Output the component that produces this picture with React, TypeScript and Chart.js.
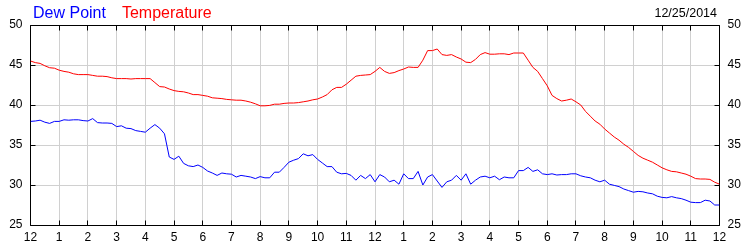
import { useEffect, useRef } from "react";
import { Chart, registerables } from "chart.js";

Chart.register(...registerables);

const DATE_TEXT = "12/25/2014";
const SERIES_NAMES = ["Dew Point", "Temperature"];
const SERIES_COLORS = ["#0000ff", "#ff0000"];
const HOUR_LABELS = [
  "12", "1", "2", "3", "4", "5", "6", "7", "8", "9", "10", "11",
  "12", "1", "2", "3", "4", "5", "6", "7", "8", "9", "10", "11", "12",
];
const Y_TICKS = [25, 30, 35, 40, 45, 50];
const SAMPLES_PER_HOUR = 6; // one reading every 10 minutes

const dewPoint = [
  37.95, 38.0, 38.1, 37.85, 37.7, 37.95,
  37.95, 38.15, 38.1, 38.15, 38.15, 38.05,
  38.0, 38.3, 37.8, 37.75, 37.75, 37.7,
  37.3, 37.4, 37.1, 37.05, 36.8, 36.7,
  36.6, 37.1, 37.55, 37.1, 36.4, 33.5,
  33.2, 33.6, 32.7, 32.4, 32.3, 32.5,
  32.2, 31.75, 31.5, 31.2, 31.5, 31.4,
  31.35, 31.0, 31.2, 31.1, 31.0, 30.8,
  31.05, 30.9, 30.9, 31.6, 31.6, 32.2,
  32.85, 33.1, 33.3, 33.9, 33.65, 33.8,
  33.2, 32.75, 32.3, 32.3, 31.6, 31.4,
  31.45, 31.2, 30.6, 31.2, 30.8, 31.3,
  30.4, 31.3, 31.0, 30.4, 30.6, 30.1,
  31.4, 30.8, 30.8, 31.7, 30.0, 31.0,
  31.3, 30.5, 29.7, 30.4, 30.6, 31.2,
  30.6, 31.4, 30.1, 30.6, 31.0, 31.1,
  30.9, 31.1, 30.66, 31.0, 30.9, 30.9,
  31.8, 31.8, 32.2, 31.7, 31.9, 31.4,
  31.3, 31.4, 31.25, 31.3, 31.3, 31.4,
  31.4, 31.15, 31.0, 30.9, 30.6, 30.4,
  30.6, 30.1, 29.95, 29.8, 29.5, 29.3,
  29.1, 29.2, 29.15, 29.0, 28.9, 28.6,
  28.45, 28.4, 28.55, 28.4, 28.3, 28.1,
  27.85, 27.8, 27.8, 28.1, 28.0, 27.5,
  27.5,
];

const temperature = [
  45.5, 45.3, 45.2, 44.9, 44.66, 44.6,
  44.35, 44.2, 44.1, 43.9, 43.8, 43.8,
  43.8, 43.7, 43.6, 43.6, 43.55, 43.4,
  43.3, 43.3, 43.3, 43.25, 43.3, 43.3,
  43.3, 43.3, 42.8, 42.3, 42.25, 42.0,
  41.8, 41.7, 41.65, 41.5, 41.3, 41.3,
  41.2, 41.1, 40.9, 40.85, 40.8, 40.7,
  40.65, 40.6, 40.6, 40.5, 40.35, 40.15,
  39.9, 39.9, 39.95, 40.1, 40.1, 40.2,
  40.25, 40.25, 40.3, 40.4, 40.5, 40.65,
  40.75, 41.0, 41.3, 41.9, 42.2, 42.2,
  42.6, 43.1, 43.6, 43.7, 43.75, 43.8,
  44.2, 44.7, 44.2, 43.95, 44.05, 44.3,
  44.5, 44.75, 44.7, 44.7, 45.6, 46.8,
  46.8, 47.0, 46.3, 46.2, 46.3, 46.0,
  45.75, 45.35, 45.3, 45.7, 46.3, 46.55,
  46.35, 46.35, 46.4, 46.4, 46.3, 46.5,
  46.5, 46.5, 45.6, 44.7, 44.2, 43.3,
  42.4, 41.2, 40.8, 40.5, 40.6, 40.75,
  40.4, 40.0, 39.2, 38.6, 38.0, 37.6,
  37.0, 36.5, 36.0, 35.6, 35.1, 34.7,
  34.2, 33.7, 33.35, 33.1, 32.85, 32.5,
  32.15, 31.9, 31.7, 31.65, 31.5, 31.35,
  31.1, 30.8, 30.75, 30.75, 30.7, 30.35,
  30.1,
];

const FONT = "'Liberation Sans', Arial, sans-serif";

const toPoints = (vals: number[]) =>
  vals.map((v, i) => ({ x: i / SAMPLES_PER_HOUR, y: v }));

const framePlugin = {
  id: "frame",
  beforeDatasetsDraw(chart: any) {
    const { ctx, chartArea: a, scales } = chart;
    const al = (p: number) => Math.round(p - 0.5) + 0.5;
    const L = al(a.left), R = al(a.right), T = al(a.top), B = al(a.bottom);
    ctx.save();
    ctx.strokeStyle = "#000000";
    ctx.lineWidth = 1;
    ctx.beginPath();
    ctx.moveTo(L, T);
    ctx.lineTo(R, T);
    ctx.lineTo(R, B);
    ctx.lineTo(L, B);
    ctx.closePath();
    HOUR_LABELS.forEach((_, h) => {
      const px = al(scales.x.getPixelForValue(h));
      ctx.moveTo(px, T);
      ctx.lineTo(px, T + 5);
      ctx.moveTo(px, B);
      ctx.lineTo(px, B - 5);
    });
    Y_TICKS.forEach((v) => {
      const py = al(scales.y.getPixelForValue(v));
      ctx.moveTo(L, py);
      ctx.lineTo(L + 5, py);
      ctx.moveTo(R, py);
      ctx.lineTo(R - 5, py);
    });
    ctx.stroke();
    ctx.restore();
  },
  afterDraw(chart: any) {
    const { ctx, chartArea: a } = chart;
    ctx.save();
    ctx.textBaseline = "alphabetic";
    ctx.font = `16px ${FONT}`;
    ctx.textAlign = "left";
    let x = a.left + 2.5;
    SERIES_NAMES.forEach((name, i) => {
      ctx.fillStyle = SERIES_COLORS[i];
      ctx.fillText(name, x, 18);
      x += ctx.measureText(name).width + 16;
    });
    ctx.font = `12.5px ${FONT}`;
    ctx.fillStyle = "#000000";
    ctx.textAlign = "right";
    ctx.fillText(DATE_TEXT, a.right - 2.5, 17);
    ctx.restore();
  },
};

export default function App() {
  const ref = useRef<HTMLCanvasElement | null>(null);

  useEffect(() => {
    if (!ref.current) return;
    const tickFont = { family: FONT, size: 12 };
    const chart = new Chart(ref.current, {
      type: "line",
      data: {
        datasets: [
          {
            label: SERIES_NAMES[0],
            data: toPoints(dewPoint),
            borderColor: SERIES_COLORS[0],
            borderWidth: 1,
            pointRadius: 0,
            tension: 0,
            fill: false,
          },
          {
            label: SERIES_NAMES[1],
            data: toPoints(temperature),
            borderColor: SERIES_COLORS[1],
            borderWidth: 1,
            pointRadius: 0,
            tension: 0,
            fill: false,
          },
        ],
      },
      options: {
        responsive: false,
        animation: false,
        devicePixelRatio: 1,
        layout: { padding: { top: 25, left: 0, right: 0, bottom: 0 } },
        plugins: {
          legend: { display: false },
          tooltip: { enabled: false },
          title: { display: false },
        },
        scales: {
          x: {
            type: "linear",
            position: "bottom",
            min: 0,
            max: 24,
            afterBuildTicks: (s: any) => {
              s.ticks = HOUR_LABELS.map((_, h) => ({ value: h }));
            },
            afterFit: (s: any) => {
              s.height = 25;
            },
            grid: { color: "#d0d0d0", lineWidth: 1, drawTicks: false },
            border: { display: false },
            ticks: {
              autoSkip: false,
              maxRotation: 0,
              padding: 5,
              color: "#000000",
              font: tickFont,
              callback: (v: any) => HOUR_LABELS[Math.round(Number(v))],
            },
          },
          y: {
            type: "linear",
            position: "left",
            min: Y_TICKS[0],
            max: Y_TICKS[Y_TICKS.length - 1],
            afterBuildTicks: (s: any) => {
              s.ticks = Y_TICKS.map((v) => ({ value: v }));
            },
            afterFit: (s: any) => {
              s.width = 30.5;
            },
            grid: { color: "#d0d0d0", lineWidth: 1, drawTicks: false },
            border: { display: false },
            ticks: { padding: 8, color: "#000000", font: tickFont },
          },
          y2: {
            type: "linear",
            position: "right",
            min: Y_TICKS[0],
            max: Y_TICKS[Y_TICKS.length - 1],
            afterBuildTicks: (s: any) => {
              s.ticks = Y_TICKS.map((v) => ({ value: v }));
            },
            afterFit: (s: any) => {
              s.width = 30.5;
            },
            grid: { display: false, drawTicks: false },
            border: { display: false },
            ticks: { padding: 8, color: "#000000", font: tickFont },
          },
        },
      } as any,
      plugins: [framePlugin],
    });
    return () => chart.destroy();
  }, []);

  return (
    <div style={{ position: "absolute", left: 0, top: 0, width: 750, height: 250, background: "#ffffff" }}>
      <canvas ref={ref} width={750} height={250} style={{ display: "block", width: 750, height: 250 }} />
    </div>
  );
}
